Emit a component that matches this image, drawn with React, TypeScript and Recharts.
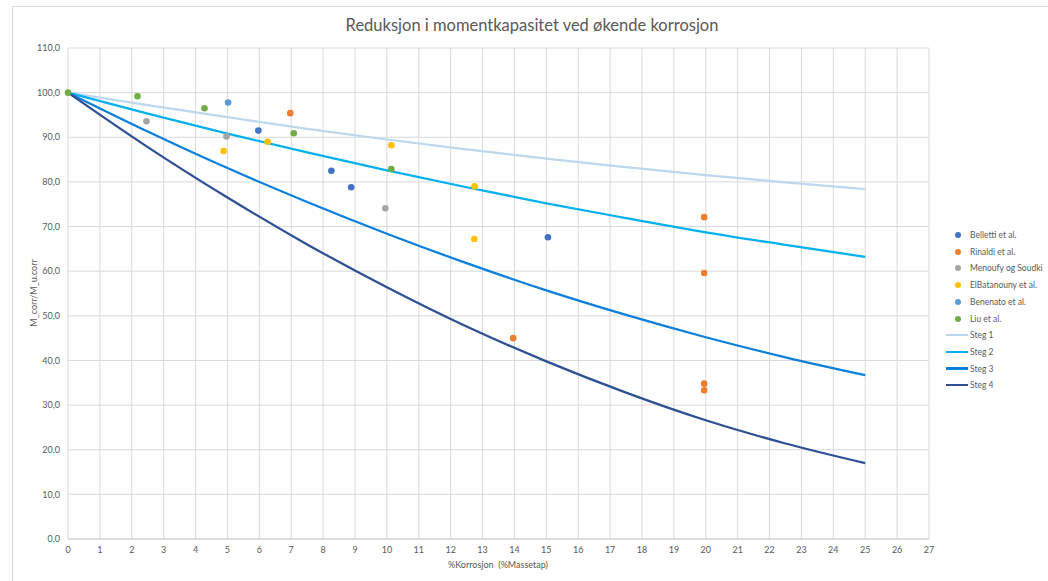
import React from "react";
import { ComposedChart, Line, Scatter, XAxis, YAxis, CartesianGrid } from "recharts";

// kurver for stegene, lest av ved hver 2,5 %
const stegX = [0, 2.5, 5, 7.5, 10, 12.5, 15, 17.5, 20, 22.5, 25];
const steg1 = [100, 97.2, 94.5, 91.9, 89.5, 87.3, 85.2, 83.3, 81.5, 79.9, 78.4];
const steg2 = [100, 95.3, 90.8, 86.6, 82.6, 78.8, 75.2, 71.9, 68.7, 65.9, 63.2];
const steg3 = [100, 91.3, 83.1, 75.5, 68.4, 61.8, 55.7, 50.2, 45.2, 40.7, 36.7];
const steg4 = [100, 87.8, 76.5, 66.0, 56.4, 47.6, 39.8, 32.8, 26.6, 21.4, 17.0];

// forsøksdata
const bellettiX = [5.97, 8.26, 8.88, 15.05];
const bellettiY = [91.5, 82.5, 78.8, 67.6];
const rinaldiX = [6.97, 19.95, 19.95, 13.96, 19.95, 19.95];
const rinaldiY = [95.4, 72.1, 59.6, 45.0, 34.8, 33.3];
const menoufyX = [2.46, 4.97, 9.95];
const menoufyY = [93.6, 90.2, 74.1];
const elbatX = [4.88, 6.26, 10.14, 12.75, 12.74];
const elbatY = [86.9, 89.0, 88.2, 79.0, 67.2];
const benenatoX = [5.02];
const benenatoY = [97.8];
const liuX = [0, 2.18, 4.28, 7.08, 10.14];
const liuY = [100, 99.2, 96.5, 90.9, 82.9];

const xTicks = Array.from({ length: 28 }, (_, i) => i);
const yTicks = [0, 10, 20, 30, 40, 50, 60, 70, 80, 90, 100, 110];

const pts = (xs: number[], ys: number[]) => xs.map((x, i) => ({ x, y: ys[i] }));

const scatters = [
  { name: "Belletti et al.", color: "#4472C4", data: pts(bellettiX, bellettiY) },
  { name: "Rinaldi et al.", color: "#ED7D31", data: pts(rinaldiX, rinaldiY) },
  { name: "Menoufy og Soudki", color: "#A5A5A5", data: pts(menoufyX, menoufyY) },
  { name: "ElBatanouny et al.", color: "#FFC000", data: pts(elbatX, elbatY) },
  { name: "Benenato et al.", color: "#5B9BD5", data: pts(benenatoX, benenatoY) },
  { name: "Liu et al.", color: "#70AD47", data: pts(liuX, liuY) },
];

const lines = [
  { name: "Steg 1", color: "#BDD7EE", data: pts(stegX, steg1) },
  { name: "Steg 2", color: "#00B0F0", data: pts(stegX, steg2) },
  { name: "Steg 3", color: "#0A7FDC", data: pts(stegX, steg3) },
  { name: "Steg 4", color: "#2F4F95", data: pts(stegX, steg4) },
];

const font = "Lato, 'Open Sans', sans-serif";
const textColor = "#595959";
const fmt = (v: number) => v.toFixed(1).replace(".", ",");

export default function App() {
  return (
    <div
      style={{
        position: "fixed",
        left: 0,
        top: 0,
        width: 1048,
        height: 581,
        overflow: "hidden",
        background: "#fff",
        fontFamily: font,
      }}
    >
      <div
        style={{
          position: "absolute",
          left: 12,
          top: 6,
          width: 1100,
          height: 700,
          border: "1px solid #d9d9d9",
        }}
      />
      <div
        style={{
          position: "absolute",
          left: 12,
          width: 1040,
          top: 15,
          textAlign: "center",
          fontSize: 16.5,
          color: textColor,
        }}
      >
        Reduksjon i momentkapasitet ved økende korrosjon
      </div>
      <ComposedChart
        width={1048}
        height={581}
        margin={{ top: 48, right: 119, bottom: 12, left: 0 }}
        style={{ position: "absolute", left: 0, top: 0 }}
      >
        <CartesianGrid stroke="#d9d9d9" />
        <XAxis
          type="number"
          dataKey="x"
          domain={[0, 27]}
          ticks={xTicks}
          interval={0}
          height={30}
          tickLine={false}
          axisLine={{ stroke: "#d0d0d0" }}
          tick={{ fontSize: 9, fill: textColor, fontFamily: font }}
        />
        <YAxis
          type="number"
          dataKey="y"
          domain={[0, 110]}
          ticks={yTicks}
          interval={0}
          width={68}
          tickLine={false}
          axisLine={false}
          tickFormatter={fmt}
          tick={{ fontSize: 9, fill: textColor, fontFamily: font }}
        />
        {lines.map((l) => (
          <Line
            key={l.name}
            data={l.data}
            dataKey="y"
            type="monotone"
            stroke={l.color}
            strokeWidth={2.25}
            dot={false}
            isAnimationActive={false}
          />
        ))}
        {scatters.map((s) => (
          <Scatter
            key={s.name}
            data={s.data}
            dataKey="y"
            fill={s.color}
            isAnimationActive={false}
            shape={(p: any) => <circle cx={p.cx} cy={p.cy} r={3.3} fill={s.color} />}
          />
        ))}
      </ComposedChart>
      <div
        style={{
          position: "absolute",
          left: 398,
          width: 200,
          top: 559,
          textAlign: "center",
          fontSize: 9,
          color: textColor,
        }}
      >
        %Korrosjon&nbsp; (%Massetap)
      </div>
      <div
        style={{
          position: "absolute",
          left: 33,
          top: 293,
          transform: "translate(-50%, -50%) rotate(-90deg)",
          whiteSpace: "nowrap",
          fontSize: 9,
          color: textColor,
        }}
      >
        M_corr/M_u.corr
      </div>
      {[...scatters, ...lines].map((item, i) => {
        const isLine = i >= scatters.length;
        return (
          <div
            key={item.name}
            style={{
              position: "absolute",
              left: 946,
              width: 110,
              top: 235 + i * 16.7 - 7,
              height: 14,
              display: "flex",
              alignItems: "center",
              fontSize: 8.5,
              color: textColor,
              whiteSpace: "nowrap",
            }}
          >
            {isLine ? (
              <span
                style={{ flexShrink: 0, width: 22, height: 2.25, background: item.color, marginRight: 2 }}
              />
            ) : (
              <span style={{ flexShrink: 0, width: 24, display: "flex", justifyContent: "center" }}>
                <span style={{ width: 6, height: 6, borderRadius: 3, background: item.color }} />
              </span>
            )}
            <span style={{ flexShrink: 0 }}>{item.name}</span>
          </div>
        );
      })}
    </div>
  );
}
